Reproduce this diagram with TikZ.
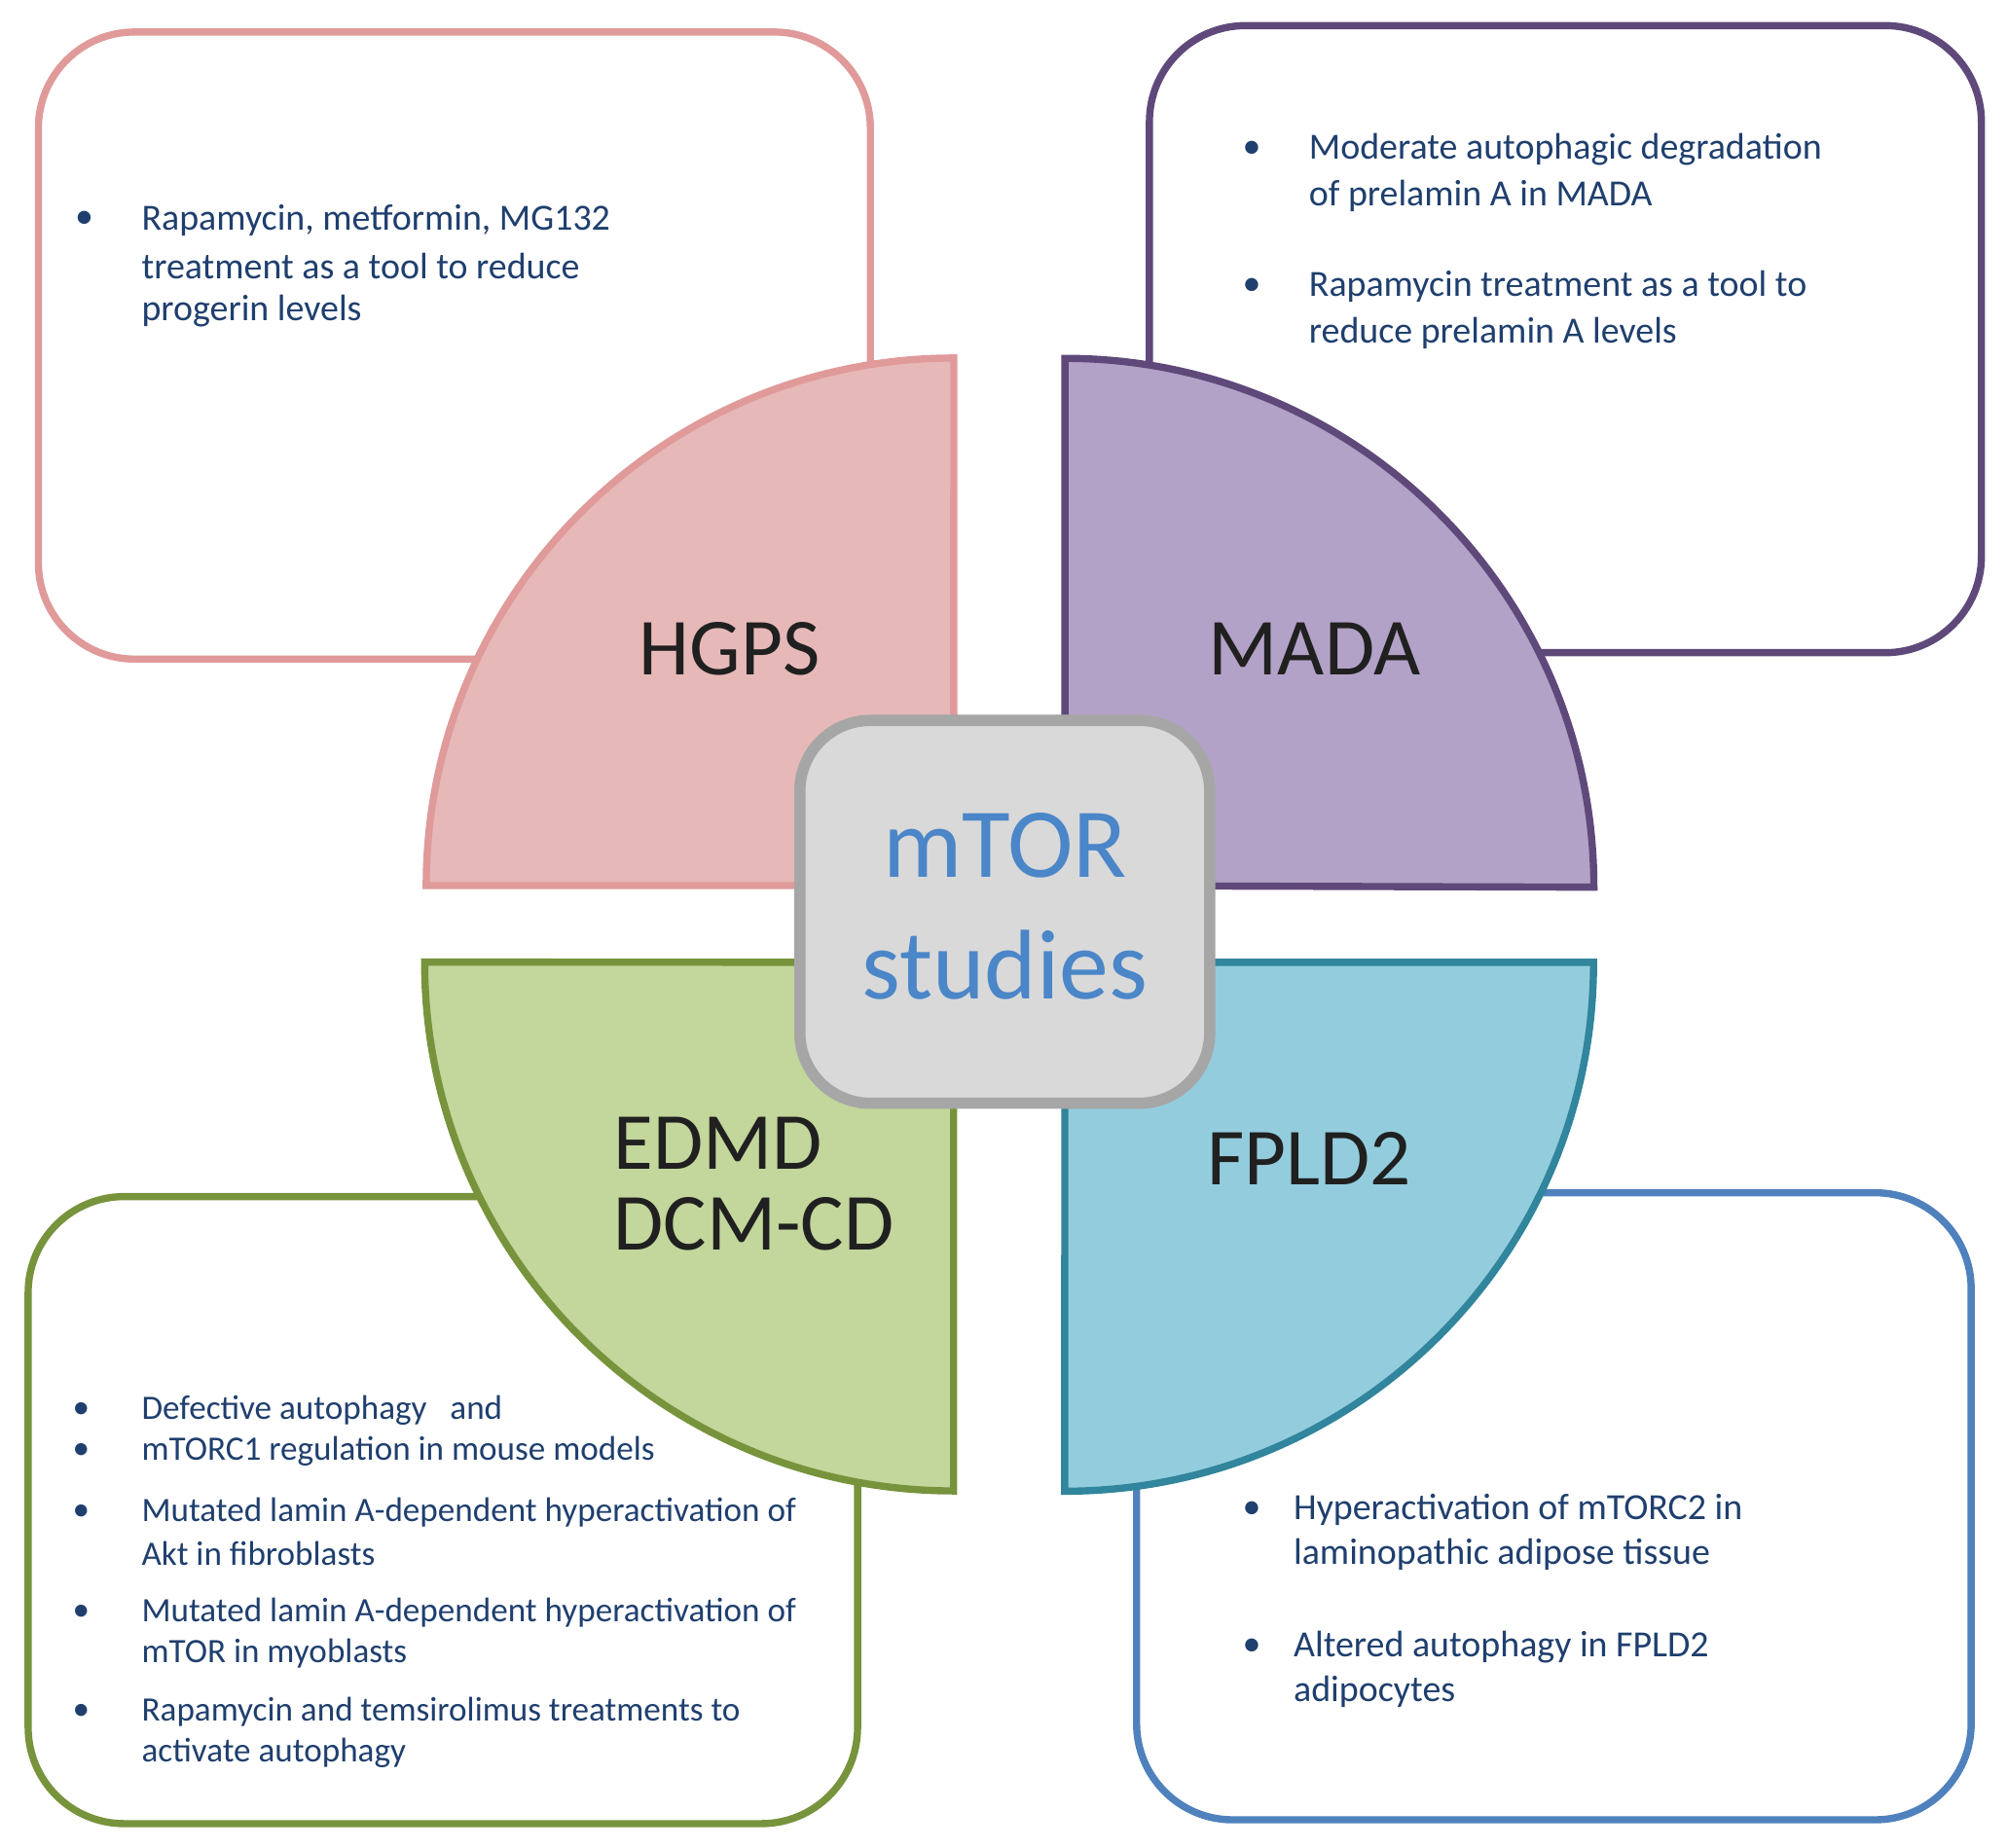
\documentclass[tikz,border=0pt]{standalone}
\usepackage{fontspec}
\setmainfont{Carlito}
\begin{document}
\begin{tikzpicture}[x=0.01cm,y=-0.01cm,
  box/.style={line width=1.6pt,rounded corners=0.75cm,fill=white},
  txt/.style={anchor=west,text=bluetxt,font=\fontsize{8.2}{10}\selectfont,inner sep=0pt},
  stxt/.style={txt,font=\fontsize{7.6}{9}\selectfont},
  big/.style={text=gray!25!black,font=\fontsize{18}{20}\selectfont}]
\definecolor{bluetxt}{HTML}{1F3F6E}
\definecolor{pinkS}{HTML}{E09A9A}\definecolor{pinkF}{HTML}{E6B9B8}
\definecolor{purS}{HTML}{5F497A}\definecolor{purF}{HTML}{B3A2C7}
\definecolor{grnS}{HTML}{77933C}\definecolor{grnF}{HTML}{C3D69B}
\definecolor{bluS}{HTML}{4F81BD}\definecolor{cyaS}{HTML}{31859C}\definecolor{cyaF}{HTML}{93CDDD}
\definecolor{mtor}{HTML}{4A86C8}
\useasboundingbox (0,0) rectangle (1568,1444);
\draw[box,draw=pinkS] (30,25) rectangle (680,515);
\draw[box,draw=purS] (898,20) rectangle (1548,510);
\draw[box,draw=grnS] (22,935) rectangle (670,1425);
\draw[box,draw=bluS] (888,932) rectangle (1540,1422);
% quarters
\draw[line width=1.6pt,draw=pinkS,fill=pinkF] (745,692) -- (333,692) arc[start angle=180,end angle=90,radius=4.12cm] -- cycle;
\draw[line width=1.6pt,draw=purS,fill=purF] (832,692) -- (832,280) arc[start angle=90,end angle=0,radius=4.13cm] -- cycle;
\draw[line width=1.6pt,draw=grnS,fill=grnF] (745,752) -- (745,1165) arc[start angle=270,end angle=180,radius=4.13cm] -- cycle;
\draw[line width=1.6pt,draw=cyaS,fill=cyaF] (832,752) -- (1245,752) arc[start angle=0,end angle=-90,radius=4.13cm] -- cycle;
\node[big] (hgps) at (570,507) {HGPS};
\node[big] (mada) at (1027,507) {MADA};
\node[big,align=left,anchor=west] (edmd) at (467,925) {EDMD\\[-2pt]DCM-CD};
\node[big] (fpld) at (1023,905) {FPLD2};
\node[draw=black!35,line width=2.5pt,fill=black!15,rounded corners=0.55cm,minimum width=3.2cm,minimum height=2.99cm] (c) at (785,712.5) {};
\node[text=mtor,align=center,font=\fontsize{22}{27}\selectfont] (ct) at (785,708) {mTOR\\studies};
% HGPS text
\foreach \n/\y/\t in {a/172/{Rapamycin, metformin, MG132},b/208/{treatment as a tool to reduce},c/243/{progerin levels}} \node[txt] (h\n) at (110,\y) {\t};
\node[txt] (hb1) at (58,172) {•};
% MADA
\foreach \n/\y/\t in {a/117/{Moderate autophagic degradation},b/153/{of prelamin A in MADA},c/224/{Rapamycin treatment as a tool to},d/260/{reduce prelamin A levels}} \node[txt] (m\n) at (1022,\y) {\t};
\node[txt] (mb1) at (970,117) {•};\node[txt] (mb2) at (970,224) {•};
% EDMD
\foreach \n/\y/\t in {a/1102/{Defective autophagy\ \ \ and},b/1134/{mTORC1\ regulation in mouse\ models},c/1182/{Mutated lamin A-dependent\ hyperactivation of},d/1214/{Akt\ in fibroblasts},e/1260/{Mutated lamin A-dependent\ hyperactivation of},f/1292/{mTOR in myoblasts},g/1338/{Rapamycin and temsirolimus treatments to},h/1370/{activate autophagy}} \node[stxt] (e\n) at (110,\y) {\t};
\foreach \n/\y in {1/1102,2/1134,3/1182,4/1260,5/1338} \node[stxt] (eb\n) at (56,\y) {•};
% FPLD2
\foreach \n/\y/\t in {a/1180/{Hyperactivation of mTORC2 in},b/1215/{laminopathic adipose tissue},c/1287/{Altered autophagy in FPLD2},d/1322/{adipocytes}} \node[txt] (f\n) at (1010,\y) {\t};
\node[txt] (fb1) at (970,1180) {•};\node[txt] (fb2) at (970,1287) {•};
\end{tikzpicture}
\end{document}
